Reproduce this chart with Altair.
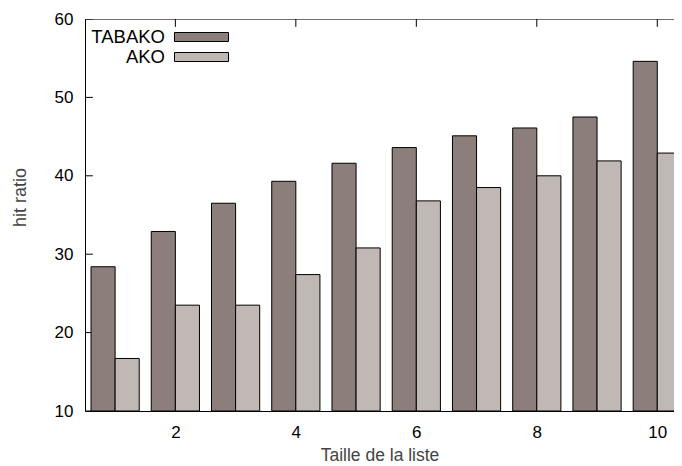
import altair as alt
import pandas as pd

# ---- data ----
sizes = [1, 2, 3, 4, 5, 6, 7, 8, 9, 10]
tabako = [28.4, 32.9, 36.5, 39.3, 41.6, 43.6, 45.1, 46.1, 47.5, 54.6]
ako = [16.7, 23.5, 23.5, 27.4, 30.8, 36.8, 38.5, 40.0, 41.9, 42.9]
series_names = ["TABAKO", "AKO"]
series_colors = ["#8c7f7b", "#c0b8b5"]
x_ticks = [2, 4, 6, 8, 10]
y_ticks = [10, 20, 30, 40, 50, 60]

PLOT_W, PLOT_H = 589, 392
PX_PER_X = 60.24
X_MIN, X_MAX = 0.5, 10.5
X_MAX_VISIBLE = X_MIN + PLOT_W / PX_PER_X
Y_MIN, Y_MAX = 10, 60
BAR_W = 0.4
TX = 0.13   # inward tick length in x units (~8px)
TY = 1.0    # inward tick length in y units (~8px)

FONT = "Liberation Sans"

rows = []
for s, t, a in zip(sizes, tabako, ako):
    rows.append({"series": "TABAKO", "x": s - BAR_W, "x2": s, "v": t, "base": Y_MIN})
    rows.append({"series": "AKO", "x": s, "x2": s + BAR_W, "v": a, "base": Y_MIN})
bars_df = pd.DataFrame(rows)

rules = []
for yv in y_ticks:
    rules.append({"x": X_MIN, "x2": X_MIN + TX, "y": yv, "y2": yv})
    rules.append({"x": X_MAX - TX, "x2": X_MAX, "y": yv, "y2": yv})
for xv in x_ticks:
    rules.append({"x": xv, "x2": xv, "y": Y_MAX, "y2": Y_MAX - TY})
    rules.append({"x": xv, "x2": xv, "y": Y_MIN, "y2": Y_MIN + TY})
rules.append({"x": X_MIN, "x2": X_MAX, "y": Y_MAX, "y2": Y_MAX})
rules_df = pd.DataFrame(rules)

xscale = alt.Scale(domain=[X_MIN, X_MAX_VISIBLE], nice=False, zero=False)
yscale = alt.Scale(domain=[Y_MIN, Y_MAX], nice=False, zero=False)

xaxis = alt.Axis(values=x_ticks, format="d", ticks=False, grid=False, labelPadding=13,
                 labelFontSize=17, labelFont=FONT, labelColor="black",
                 domainColor="black", domainWidth=1,
                 title="Taille de la liste", titleFont=FONT, titleFontSize=17.5,
                 titleFontWeight="normal", titleColor="#444444",
                 titleBaseline="alphabetic", titleY=49)
yaxis = alt.Axis(values=y_ticks, ticks=False, grid=False, labelPadding=12,
                 labelFontSize=17, labelFont=FONT, labelColor="black",
                 domainColor="black", domainWidth=1,
                 title="hit ratio", titleFont=FONT, titleFontSize=18,
                 titleFontWeight="normal", titleColor="#444444",
                 titleAngle=-90, titleAlign="center", titleBaseline="alphabetic",
                 titleX=-60, titleY=178)

rule_layer = alt.Chart(rules_df).mark_rule(color="black", strokeWidth=1, clip=True).encode(
    x=alt.X("x:Q", scale=xscale, axis=xaxis),
    x2="x2:Q",
    y=alt.Y("y:Q", scale=yscale, axis=yaxis),
    y2="y2:Q",
)

bar_layer = alt.Chart(bars_df).mark_bar(stroke="black", strokeWidth=1, opacity=1, clip=True).encode(
    x=alt.X("x:Q", scale=xscale),
    x2="x2:Q",
    y=alt.Y("v:Q", scale=yscale),
    y2="base:Q",
    color=alt.Color("series:N",
                    scale=alt.Scale(domain=series_names, range=series_colors),
                    sort=series_names,
                    legend=alt.Legend(title=None, orient="none", legendX=107, legendY=8.5,
                                      symbolType="M-3,-0.5H3V0.5H-3Z",
                                      symbolSize=324, symbolStrokeColor="black",
                                      symbolStrokeWidth=1, symbolOpacity=1,
                                      labelAlign="right", labelOffset={"expr": "-46"},
                                      labelFont=FONT, labelFontSize=18.5,
                                      labelColor="black", rowPadding=1)),
)

chart = alt.layer(rule_layer, bar_layer).properties(
    width=PLOT_W, height=PLOT_H,
    autosize=alt.AutoSizeParams(type="none"),
    padding={"left": 77, "top": 11, "right": 0, "bottom": 55},
).configure_view(stroke=None).configure(background="white")

chart.save("out.html", embed_options={"renderer": "svg", "actions": False})
